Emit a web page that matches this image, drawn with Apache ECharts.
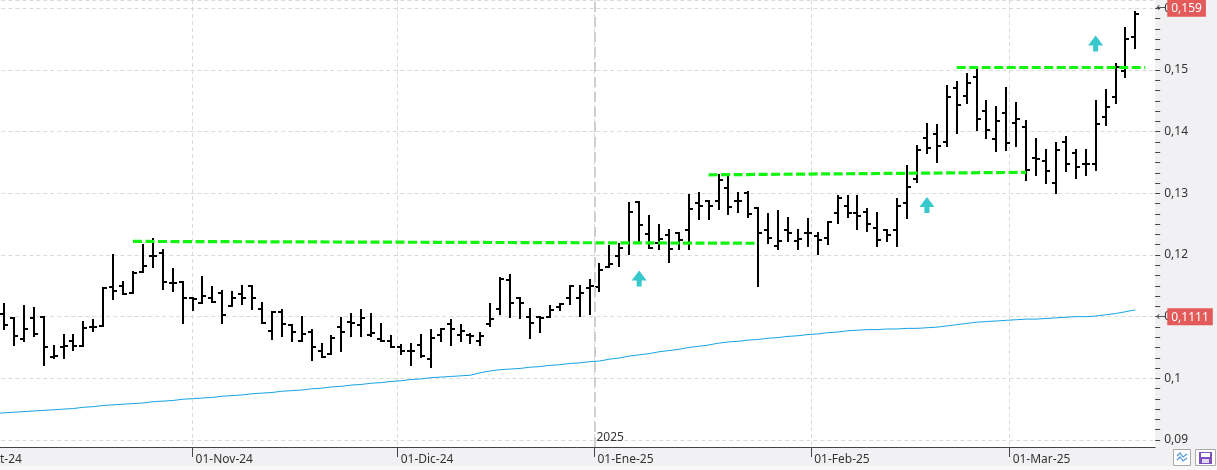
<!DOCTYPE html>
<html>
<head>
<meta charset="utf-8">
<script src="https://cdn.jsdelivr.net/npm/echarts@6/dist/echarts.min.js"></script>
<style>
  html, body { margin: 0; padding: 0; background: #f1f1f3; }
  #chart { width: 1217px; height: 470px; }
</style>
</head>
<body>
<div id="chart"></div>
<script>
// sesiones (las 4 primeras sin barra, solo media)
const dates = [
  '2024-10-01','2024-10-02','2024-10-03','2024-10-04','2024-10-07','2024-10-08','2024-10-09','2024-10-10','2024-10-11',
  '2024-10-14','2024-10-15','2024-10-16','2024-10-17','2024-10-18','2024-10-21','2024-10-22','2024-10-23','2024-10-24',
  '2024-10-25','2024-10-28','2024-10-29','2024-10-30','2024-10-31',
  '2024-11-01','2024-11-04','2024-11-05','2024-11-06','2024-11-07','2024-11-08','2024-11-11','2024-11-12','2024-11-13',
  '2024-11-14','2024-11-15','2024-11-18','2024-11-19','2024-11-20','2024-11-21','2024-11-22','2024-11-25','2024-11-26',
  '2024-11-27','2024-11-28','2024-11-29',
  '2024-12-02','2024-12-03','2024-12-04','2024-12-05','2024-12-06','2024-12-09','2024-12-10','2024-12-11','2024-12-12',
  '2024-12-13','2024-12-16','2024-12-17','2024-12-18','2024-12-19','2024-12-20','2024-12-23','2024-12-24','2024-12-27',
  '2024-12-30','2024-12-31',
  '2025-01-02','2025-01-03','2025-01-06','2025-01-07','2025-01-08','2025-01-09','2025-01-10','2025-01-13','2025-01-14',
  '2025-01-15','2025-01-16','2025-01-17','2025-01-20','2025-01-21','2025-01-22','2025-01-23','2025-01-24','2025-01-27',
  '2025-01-28','2025-01-29','2025-01-30','2025-01-31',
  '2025-02-03','2025-02-04','2025-02-05','2025-02-06','2025-02-07','2025-02-10','2025-02-11','2025-02-12','2025-02-13',
  '2025-02-14','2025-02-17','2025-02-18','2025-02-19','2025-02-20','2025-02-21','2025-02-24','2025-02-25','2025-02-26',
  '2025-02-27','2025-02-28',
  '2025-03-03','2025-03-04','2025-03-05','2025-03-06','2025-03-07','2025-03-10','2025-03-11','2025-03-12','2025-03-13',
  '2025-03-14','2025-03-17','2025-03-18','2025-03-19'
];

const open = [null, null, null, null,
  0.1105,0.1097,0.1064,0.1097,0.1099,0.1035,0.1050,0.1060,0.1053,0.1084,
  0.1085,0.1148,0.1150,0.1138,0.1172,0.1199,0.1203,0.1154,0.1156,0.1130,
  0.1122,0.1131,0.1139,0.1117,0.1137,0.1150,0.1112,0.1076,0.1108,0.1086,
  0.1061,0.1075,0.1045,0.1039,0.1083,0.1091,0.1087,0.1070,0.1064,0.1061,
  0.1050,0.1044,0.1054,0.1031,0.1071,0.1088,0.1071,0.1071,0.1061,0.1088,
  0.1112,0.1159,0.1130,0.1099,0.1099,0.1099,0.1116,0.1130,0.1130,0.1147,
  0.1148,0.1181,0.1198,0.1219,0.1286,0.1234,0.1219,0.1233,0.1235,0.1241,
  0.1284,0.1287,0.1287,0.1308,0.1287,0.1301,0.1276,0.1241,0.1214,0.1241,
  0.1223,0.1235,0.1231,0.1227,0.1268,0.1279,0.1268,0.1270,0.1243,0.1241,
  0.1241,0.1285,0.1323,0.1389,0.1397,0.1383,0.1470,0.1458,0.1488,0.1433,
  0.1388,0.1430,0.1414,0.1408,0.1357,0.1352,0.1316,0.1383,0.1365,0.1347,
  0.1347,0.1424,0.1456,0.1499,0.1553];

const high = [null, null, null, null,
  0.1121,0.1097,0.1117,0.1114,0.1099,0.1052,0.1071,0.1070,0.1091,0.1095,
  0.1146,0.1200,0.1156,0.1172,0.1216,0.1226,0.1208,0.1177,0.1156,0.1131,
  0.1164,0.1148,0.1141,0.1140,0.1150,0.1150,0.1122,0.1107,0.1110,0.1086,
  0.1099,0.1078,0.1055,0.1069,0.1097,0.1104,0.1111,0.1104,0.1088,0.1068,
  0.1054,0.1055,0.1070,0.1078,0.1080,0.1095,0.1086,0.1072,0.1073,0.1121,
  0.1163,0.1168,0.1131,0.1112,0.1100,0.1117,0.1121,0.1150,0.1150,0.1159,
  0.1185,0.1215,0.1218,0.1285,0.1286,0.1263,0.1249,0.1241,0.1235,0.1297,
  0.1300,0.1288,0.1330,0.1328,0.1301,0.1302,0.1276,0.1267,0.1271,0.1260,
  0.1241,0.1258,0.1236,0.1254,0.1296,0.1295,0.1295,0.1274,0.1268,0.1241,
  0.1290,0.1344,0.1377,0.1412,0.1410,0.1474,0.1480,0.1494,0.1503,0.1450,
  0.1440,0.1471,0.1447,0.1417,0.1388,0.1370,0.1381,0.1391,0.1370,0.1370,
  0.1450,0.1467,0.1510,0.1568,0.1594];

const low = [null, null, null, null,
  0.1080,0.1054,0.1060,0.1069,0.1022,0.1033,0.1033,0.1046,0.1053,0.1076,
  0.1085,0.1129,0.1136,0.1138,0.1172,0.1181,0.1145,0.1141,0.1089,0.1110,
  0.1122,0.1123,0.1090,0.1117,0.1120,0.1113,0.1089,0.1064,0.1069,0.1060,
  0.1060,0.1029,0.1034,0.1039,0.1045,0.1069,0.1069,0.1069,0.1060,0.1050,
  0.1039,0.1021,0.1035,0.1019,0.1061,0.1054,0.1061,0.1057,0.1054,0.1085,
  0.1104,0.1099,0.1098,0.1065,0.1075,0.1099,0.1110,0.1121,0.1101,0.1104,
  0.1142,0.1180,0.1182,0.1201,0.1219,0.1211,0.1209,0.1188,0.1209,0.1209,
  0.1259,0.1259,0.1274,0.1266,0.1269,0.1261,0.1150,0.1219,0.1209,0.1222,
  0.1209,0.1214,0.1201,0.1217,0.1252,0.1261,0.1242,0.1239,0.1214,0.1222,
  0.1214,0.1260,0.1319,0.1365,0.1351,0.1376,0.1398,0.1447,0.1402,0.1389,
  0.1369,0.1371,0.1376,0.1321,0.1330,0.1316,0.1301,0.1337,0.1325,0.1329,
  0.1338,0.1411,0.1447,0.1488,0.1535];

const close = [null, null, null, null,
  0.1086,0.1068,0.1080,0.1072,0.1050,0.1036,0.1053,0.1052,0.1081,0.1083,
  0.1146,0.1141,0.1136,0.1171,0.1182,0.1199,0.1156,0.1154,0.1130,0.1129,
  0.1134,0.1123,0.1102,0.1131,0.1130,0.1130,0.1089,0.1107,0.1088,0.1075,
  0.1072,0.1050,0.1034,0.1065,0.1075,0.1089,0.1097,0.1074,0.1060,0.1050,
  0.1044,0.1044,0.1036,0.1065,0.1080,0.1080,0.1077,0.1069,0.1069,0.1096,
  0.1161,0.1122,0.1122,0.1090,0.1097,0.1110,0.1120,0.1149,0.1139,0.1149,
  0.1176,0.1185,0.1211,0.1269,0.1248,0.1212,0.1226,0.1209,0.1224,0.1275,
  0.1279,0.1279,0.1322,0.1278,0.1287,0.1266,0.1235,0.1227,0.1223,0.1235,
  0.1226,0.1235,0.1224,0.1253,0.1292,0.1268,0.1264,0.1250,0.1225,0.1232,
  0.1279,0.1310,0.1370,0.1373,0.1377,0.1456,0.1443,0.1479,0.1421,0.1403,
  0.1417,0.1381,0.1421,0.1338,0.1355,0.1336,0.1371,0.1347,0.1342,0.1347,
  0.1412,0.1440,0.1505,0.1550,0.1590];

// media móvil (línea azul)
const ma = [0.0940,0.0941,0.0942,0.0943,
  0.0944,0.0945,0.0946,0.0947,0.0948,0.0949,0.0950,0.0951,0.0953,0.0954,
  0.0956,0.0957,0.0958,0.0959,0.0960,0.0962,0.0963,0.0964,0.0966,0.0967,
  0.0968,0.0969,0.0971,0.0972,0.0973,0.0975,0.0976,0.0977,0.0979,0.0980,
  0.0981,0.0983,0.0984,0.0986,0.0987,0.0989,0.0990,0.0992,0.0993,0.0995,
  0.0996,0.0998,0.0999,0.1001,0.1002,0.1003,0.1004,0.1005,0.1009,0.1012,
  0.1014,0.1015,0.1016,0.1018,0.1019,0.1021,0.1022,0.1024,0.1025,0.1027,
  0.1028,0.1031,0.1033,0.1036,0.1038,0.1040,0.1043,0.1045,0.1047,0.1050,
  0.1052,0.1054,0.1057,0.1059,0.1060,0.1062,0.1063,0.1065,0.1066,0.1068,
  0.1069,0.1071,0.1072,0.1074,0.1075,0.1077,0.1078,0.1079,0.1079,0.1080,
  0.1080,0.1081,0.1081,0.1082,0.1083,0.1085,0.1087,0.1089,0.1091,0.1092,
  0.1093,0.1094,0.1095,0.1096,0.1096,0.1097,0.1098,0.1099,0.1100,0.1100,
  0.1101,0.1103,0.1105,0.1108,0.1111];

// líneas de resistencia (verde discontinua)
const levelStart = ['2024-10-24', '2025-01-17', '2025-02-21'];
const levelEnd = ['2025-01-24', '2025-03-04', '2025-03-20'];
const levelStartValue = [0.1222, 0.1330, 0.1504];
const levelEndValue = [0.1219, 0.1334, 0.1504];

// señales (flechas)
const signalDates = ['2025-01-08', '2025-02-18', '2025-03-13'];
const signalValues = [0.1162, 0.1281, 0.1543];

// etiquetas del eje X
const monthStarts = ['2024-10-01', '2024-11-01', '2024-12-01', '2025-01-01', '2025-02-01', '2025-03-01'];
const monthLabels = ['01-Oct-24', '01-Nov-24', '01-Dic-24', '01-Ene-25', '01-Feb-25', '01-Mar-25'];
const yearStart = '2025-01-01';
const yearLabel = '2025';

const yMin = 0.08886, yMax = 0.16135;

function dayNum(s) {
  return Date.UTC(+s.slice(0, 4), +s.slice(5, 7) - 1, +s.slice(8, 10)) / 86400000;
}
// posicion (en sesiones) de una fecha de calendario
function datePos(s) {
  const d = dayNum(s);
  const k = dates.findIndex(x => dayNum(x) >= d);
  if (k < 0) {
    let n = dates.length - 1, t = dayNum(dates[n]);
    while (t < d) {
      t++;
      const wd = new Date(t * 86400000).getUTCDay();
      if (wd > 0 && wd < 6) n++;
    }
    return n;
  }
  const dk = dayNum(dates[k]);
  if (dk === d || k === 0) return k;
  const dp = dayNum(dates[k - 1]);
  return k - 1 + (d - dp) / (dk - dp);
}

const fmt = v => String(+v.toFixed(4)).replace('.', ',');
const monthPos = monthStarts.map(datePos);
const last = dates.length - 1;

// marcas pequeñas del eje de precios (6 por cada 0,01)
const minorTicks = [];
for (let k = 0; k <= 42; k++) minorTicks.push(+(0.09 + k * 0.01 / 6).toFixed(6));

const ohlcData = [];
dates.forEach((d, i) => {
  if (open[i] != null) ohlcData.push([i, open[i], high[i], low[i], close[i]]);
});

function renderBar(params, api) {
  const x = api.value(0);
  const pO = api.coord([x, api.value(1)]);
  const pH = api.coord([x, api.value(2)]);
  const pL = api.coord([x, api.value(3)]);
  const pC = api.coord([x, api.value(4)]);
  const cx = Math.round(pO[0]);
  const st = { stroke: '#000', lineWidth: 2 };
  return {
    type: 'group',
    children: [
      { type: 'line', shape: { x1: cx, y1: Math.round(pH[1]) - 1, x2: cx, y2: Math.round(pL[1]) + 1 }, style: st },
      { type: 'line', shape: { x1: cx - 4, y1: Math.round(pO[1]), x2: cx, y2: Math.round(pO[1]) }, style: st },
      { type: 'line', shape: { x1: cx, y1: Math.round(pC[1]), x2: cx + 4, y2: Math.round(pC[1]) }, style: st }
    ]
  };
}

const priceLabel = (val) => ({
  show: true,
  position: 'end',
  distance: 1,
  opacity: 1,
  formatter: '{a|\u2190}{b|' + fmt(val) + '}',
  rich: {
    a: { color: '#555', fontSize: 12, fontFamily: 'DejaVu Sans', padding: [0, 1, 0, 0] },
    b: { color: '#fff', backgroundColor: '#e35a5a', fontSize: 12, fontFamily: 'Noto Sans', padding: [3, 4, 2, 4] }
  }
});

const series = [
  {
    name: 'OHLC',
    type: 'custom',
    renderItem: renderBar,
    data: ohlcData,
    encode: { x: 0, y: [1, 2, 3, 4] },
    z: 3
  },
  {
    name: 'Media',
    type: 'line',
    data: ma.map((v, i) => [i, v]),
    showSymbol: false,
    lineStyle: { color: '#17a2e6', width: 1 },
    z: 2,
    markLine: {
      silent: true,
      symbol: ['none', 'none'],
      animation: false,
      data: [
        { xAxis: datePos(yearStart), lineStyle: { color: '#cfcfcf', type: [10, 5], width: 2 }, label: { show: false } },
        { yAxis: close[last], lineStyle: { color: 'rgba(0,0,0,0)', width: 1 }, label: priceLabel(close[last]) },
        { yAxis: ma[last], lineStyle: { color: 'rgba(0,0,0,0)', width: 1 }, label: priceLabel(ma[last]) }
      ]
    },
    markPoint: {
      symbol: 'rect',
      symbolSize: 0,
      animation: false,
      data: [{
        coord: [datePos(yearStart), yMin],
        label: { show: true, formatter: yearLabel, position: [2, -15], color: '#333', fontSize: 12, fontFamily: 'Noto Sans' }
      }]
    }
  },
  {
    name: 'Señal',
    type: 'scatter',
    data: signalDates.map((d, k) => [datePos(d), signalValues[k]]),
    symbol: 'path://M7.5,0 L15,10 L10,10 L10,16 L5,16 L5,10 L0,10 Z',
    symbolSize: [15, 16],
    itemStyle: { color: '#36c8cc', opacity: 1 },
    z: 4
  }
];

levelStart.forEach((s, k) => {
  series.push({
    name: 'Nivel ' + (k + 1),
    type: 'line',
    data: [[datePos(s), levelStartValue[k]], [datePos(levelEnd[k]), levelEndValue[k]]],
    showSymbol: false,
    lineStyle: { color: '#11f511', width: 3.2, type: [9, 3.5] },
    z: 5
  });
});

const chart = echarts.init(document.getElementById('chart'));
chart.setOption({
  animation: false,
  backgroundColor: '#f1f1f3',
  textStyle: { fontFamily: 'Noto Sans' },
  grid: {
    left: -40.66, right: 61.8, top: 0, bottom: 23,
    show: true, backgroundColor: '#fff', borderWidth: 0,
    containLabel: false, outerBoundsMode: 'none'
  },
  xAxis: {
    type: 'value',
    min: -0.5,
    max: 120,
    axisLine: { show: true, lineStyle: { color: '#444' } },
    axisTick: { show: true, customValues: monthPos, length: 10, lineStyle: { color: '#444' } },
    axisLabel: {
      customValues: monthPos,
      formatter: v => {
        const k = monthPos.findIndex(p => Math.abs(p - v) < 1e-6);
        return k >= 0 ? monthLabels[k] : '';
      },
      align: 'left',
      margin: 7,
      padding: [0, 0, 0, 3],
      color: '#333',
      fontSize: 12
    },
    splitLine: { show: true, lineStyle: { color: '#dadada', type: [4, 3] } }
  },
  yAxis: [
    {
      type: 'value',
      position: 'right',
      min: yMin,
      max: yMax,
      splitNumber: 7,
      axisLine: { show: true, lineStyle: { color: '#444' } },
      axisTick: { show: true, length: 5, lineStyle: { color: '#444' } },
      axisLabel: { formatter: fmt, margin: 9, color: '#333', fontSize: 12, showMinLabel: false, showMaxLabel: false },
      splitLine: { show: true, lineStyle: { color: '#dadada', type: [4, 3] } }
    },
    {
      type: 'value',
      position: 'right',
      min: yMin,
      max: yMax,
      axisLine: { show: false },
      axisTick: { show: true, customValues: minorTicks, length: 5, lineStyle: { color: '#444' } },
      axisLabel: { show: false },
      splitLine: { show: false }
    }
  ],
  graphic: [
    { type: 'rect', shape: { x: 0, y: 466, width: 1217, height: 4 }, style: { fill: '#f8f8f8' } },
    { type: 'rect', shape: { x: 1173.5, y: 449.5, width: 17, height: 16 }, style: { fill: '#fff', stroke: '#aaa', lineWidth: 1 } },
    { type: 'polyline', shape: { points: [[1177, 456], [1180, 453], [1183, 457], [1187, 454]] }, style: { stroke: '#4f97d8', lineWidth: 1.2, fill: null } },
    { type: 'polyline', shape: { points: [[1177, 460], [1180, 457], [1183, 461], [1187, 458]] }, style: { stroke: '#4f97d8', lineWidth: 1.2, fill: null } },
    { type: 'rect', shape: { x: 1195.5, y: 449.5, width: 20, height: 16 }, style: { fill: '#fff', stroke: '#aaa', lineWidth: 1 } },
    { type: 'rect', shape: { x: 1199, y: 452, width: 13, height: 12 }, style: { fill: '#7d4fbf' } },
    { type: 'rect', shape: { x: 1201, y: 453, width: 9, height: 4 }, style: { fill: '#fff' } },
    { type: 'rect', shape: { x: 1202, y: 459, width: 7, height: 4 }, style: { fill: '#e4d9f3' } }
  ],
  series: series
});
</script>
</body>
</html>
